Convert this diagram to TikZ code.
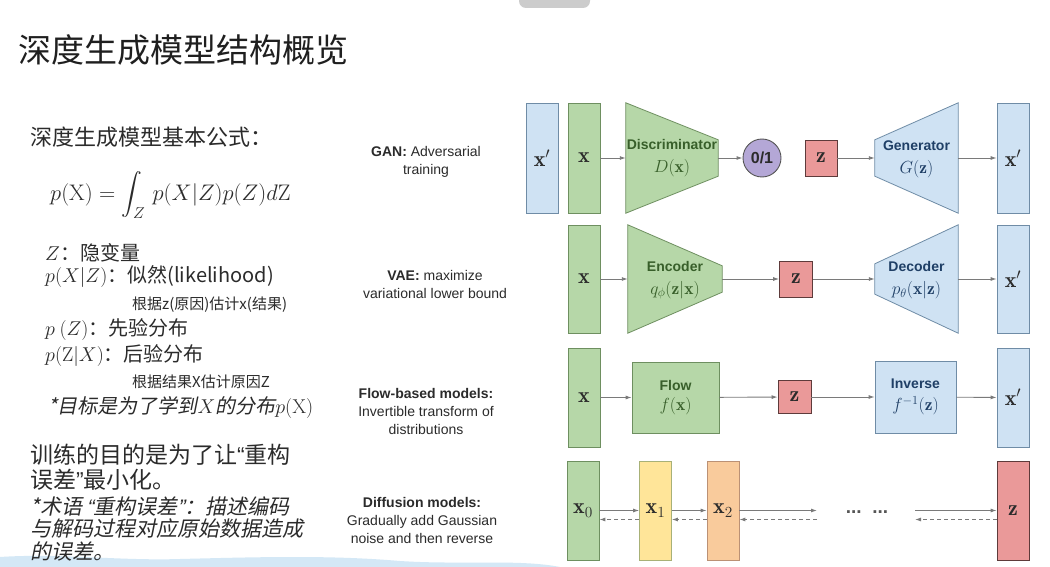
\RequirePackage{fix-cm}
\documentclass[tikz,border=0pt]{standalone}
\usepackage{fontspec}
\usepackage{amsmath}
\usetikzlibrary{arrows.meta}
\newfontfamily\cjk{Noto Sans CJK SC}
\newfontfamily\cjkit{Noto Sans CJK SC}[FakeSlant=0.2]
\newfontfamily\arial{Liberation Sans}
\newfontfamily\arialit{Liberation Sans}[FakeSlant=0.2]
\newcommand{\fsz}[2]{\fontsize{#1}{#2}\selectfont}
\newcommand{\mlab}[1]{{\fsz{17.5}{23}$#1$}}
\newcommand{\openq}{{\arial “}}
\newcommand{\closeq}{{\arial ”}}
\newcommand{\openqi}{{\arialit “}}
\newcommand{\closeqi}{{\arialit ”}}
\definecolor{boxgreen}{HTML}{B6D7A8}
\definecolor{boxblue}{HTML}{CFE2F3}
\definecolor{boxred}{HTML}{EA9999}
\definecolor{boxyellow}{HTML}{FFE599}
\definecolor{boxorange}{HTML}{F9CB9C}
\definecolor{boxpurple}{HTML}{B4A7D6}
\definecolor{greenline}{HTML}{6E8F60}
\definecolor{blueline}{HTML}{6F8CA6}
\definecolor{redline}{HTML}{5E3B3B}
\definecolor{greentext}{HTML}{385F2A}
\definecolor{bluetext}{HTML}{1F3F66}
\definecolor{inktext}{HTML}{2B2B2B}
\definecolor{arrowgrey}{HTML}{7A7A7A}
\definecolor{pillgrey}{HTML}{CCCCCC}
\definecolor{wavecol}{HTML}{D4E8F6}

\begin{document}
\begin{tikzpicture}[x=1pt,y=-1pt,
  frame/.style={inner sep=0pt, minimum width=#1},
  block/.style={inner sep=0pt, line width=0.8pt, minimum width=32pt, text=inktext, font=\fsz{22}{26}},
  greenbox/.style={block, fill=boxgreen, draw=greenline},
  bluebox/.style={block, fill=boxblue, draw=blueline},
  redbox/.style={block, fill=boxred, draw=redline},
  yellowbox/.style={block, fill=boxyellow, draw=greenline!60!boxyellow},
  orangebox/.style={block, fill=boxorange, draw=redline!40!boxorange},
  netlabel/.style={align=center, inner sep=0pt, font=\arial\bfseries\fsz{14}{23}},
  rowlabel/.style={align=center, inner sep=0pt, text=inktext, font=\arial\fsz{14}{18}},
  cjktext/.style={anchor=west, inner sep=0pt, text=inktext},
  arr/.style={draw=arrowgrey, line width=0.9pt, -{Latex[length=6pt,width=4pt]}},
  backarr/.style={arr, dash pattern=on 4pt off 3pt}]
\useasboundingbox (0,0) rectangle (1050,567);
\fill[white] (0,0) rectangle (1050,567);

% screen decorations
\fill[pillgrey, rounded corners=7pt] (519,-14) rectangle (590,8);
\fill[wavecol] (0,567) -- (0,557) .. controls (60,553) and (120,561) .. (180,559)
  .. controls (260,557) and (330,555) .. (400,561) .. controls (460,565) and (520,559) .. (560,567) -- cycle;

% left column text
\node[cjktext, text=black!88] (title) at (18,50) {\cjk\fsz{33}{36}深度生成模型结构概览};
\node[cjktext] (subtitle) at (30,137) {\cjk\fsz{22}{26}深度生成模型基本公式：};
\node[cjktext] (formula) at (50,195) {\fsz{22.5}{26}$\displaystyle p(\mathrm{X}) = \int_Z\, p(X|Z)p(Z)d\mathrm{Z}$};
\node[cjktext] (latent) at (45,253) {\cjk\fsz{20}{24}$Z$：隐变量};
\node[cjktext] (likeli) at (45,277) {\cjk\fsz{20}{24}$p(X|Z)$：似然(likelihood)};
\node[cjktext] (likelinote) at (132,305) {\cjk\fsz{15}{18}根据z(原因)估计x(结果)};
\node[cjktext] (prior) at (45,330) {\cjk\fsz{20}{24}$p\ (Z)$：先验分布};
\node[cjktext] (post) at (45,356) {\cjk\fsz{20}{24}$p(\mathrm{Z}|X)$：后验分布};
\node[cjktext] (postnote) at (132,382) {\cjk\fsz{15}{18}根据结果X估计原因Z};
\node[cjktext] (goal) at (48,407) {\cjkit\fsz{20}{24}*目标是为了学到$X$的分布$p(\mathrm{X})$};
\node[cjktext] (train1) at (30,455) {\cjk\fsz{23}{26}训练的目的是为了让\openq 重构};
\node[cjktext] (train2) at (30,480) {\cjk\fsz{23}{26}误差\closeq 最小化。};
\node[cjktext] (term1) at (30,506) {\cjkit\fsz{21}{24}*术语 \openqi 重构误差\closeqi ：描述编码};
\node[cjktext] (term2) at (30,529) {\cjkit\fsz{21}{24}与解码过程对应原始数据造成};
\node[cjktext] (term3) at (30,552) {\cjkit\fsz{21}{24}的误差。};

% row labels
\node[rowlabel] (ganlab) at (426,162) {\textbf{GAN:} Adversarial\\training};
\node[rowlabel] (vaelab) at (435,284) {\textbf{VAE:} maximize\\variational lower bound};
\node[rowlabel] (flowlab) at (426,411) {\textbf{Flow-based models:}\\Invertible transform of\\distributions};
\node[rowlabel] (difflab) at (422,520) {\textbf{Diffusion models:}\\Gradually add Gaussian\\noise and then reverse};

% GAN
\node[bluebox, minimum height=110pt] (ganxp) at (542,158) {$\mathbf{x}'$};
\node[greenbox, minimum height=110pt] (ganx) at (584,158) {$\mathbf{x}$};
\node[frame=92pt, minimum height=110pt] (disc) at (672,158) {};
\draw[greenbox] (disc.north west) -- ([yshift=-37pt]disc.north east) -- ([yshift=37pt]disc.south east) -- (disc.south west) -- cycle;
\node[netlabel, text=greentext] (disctxt) at (672,158) {Discriminator\\\mlab{D(\mathbf{x})}};
\node[circle, draw=inktext!80, line width=0.9pt, fill=boxpurple, minimum size=38pt, inner sep=0pt, text=inktext, font=\arial\bfseries\fsz{16}{18}] (bin) at (762,158) {0/1};
\node[redbox, minimum height=36pt] (ganz) at (821,158) {$\mathbf{z}$};
\node[frame=83pt, minimum height=110pt] (gen) at (916.5,158) {};
\draw[bluebox] ([yshift=-37pt]gen.north west) -- (gen.north east) -- (gen.south east) -- ([yshift=37pt]gen.south west) -- cycle;
\node[netlabel, text=bluetext] (gentxt) at (916.5,159) {Generator\\\mlab{G(\mathbf{z})}};
\node[bluebox, minimum height=110pt] (ganxq) at (1013,158) {$\mathbf{x}'$};
\draw[arr] (ganx) -- (disc);
\draw[arr] (disc) -- (bin);
\draw[arr] (ganz) -- (gen);
\draw[arr] (gen) -- (ganxq);

% VAE
\node[greenbox, minimum height=108pt] (vaex) at (584,279) {$\mathbf{x}$};
\node[frame=94pt, minimum height=108pt] (enc) at (675,279) {};
\draw[greenbox] (enc.north west) -- ([yshift=-41pt]enc.north east) -- ([yshift=41pt]enc.south east) -- (enc.south west) -- cycle;
\node[netlabel, text=greentext] (enctxt) at (675,280) {Encoder\\\mlab{q_\phi(\mathbf{z}|\mathbf{x})}};
\node[redbox, minimum height=36pt, minimum width=33pt] (vaez) at (796,279) {$\mathbf{z}$};
\node[frame=83pt, minimum height=108pt] (dec) at (916.5,279) {};
\draw[bluebox] ([yshift=-39pt]dec.north west) -- (dec.north east) -- (dec.south east) -- ([yshift=39pt]dec.south west) -- cycle;
\node[netlabel, text=bluetext] (dectxt) at (916.5,280) {Decoder\\\mlab{p_\theta(\mathbf{x}|\mathbf{z})}};
\node[bluebox, minimum height=108pt] (vaexp) at (1013,279) {$\mathbf{x}'$};
\draw[arr] (vaex) -- (enc);
\draw[arr] (enc) -- (vaez);
\draw[arr] (vaez) -- (dec);
\draw[arr] (dec) -- (vaexp);

% Flow
\node[greenbox, minimum height=99pt] (flowx) at (584,397.5) {$\mathbf{x}$};
\node[greenbox, minimum width=87pt, minimum height=71pt, align=center, font=\arial\bfseries\fsz{14}{20}, text=greentext] (flow) at (675.5,397.5) {Flow\\\mlab{f(\mathbf{x})}};
\node[redbox, minimum height=33pt, minimum width=33pt] (flowz) at (794.5,397) {$\mathbf{z}$};
\node[bluebox, minimum width=81pt, minimum height=72pt, align=center, font=\arial\bfseries\fsz{14}{22}, text=bluetext] (inv) at (915.5,397) {Inverse\\\mlab{f^{-1}(\mathbf{z})}};
\node[bluebox, minimum height=99pt] (flowxp) at (1013,397.5) {$\mathbf{x}'$};
\draw[arr] (flowx) -- (flow);
\draw[arr] (flow) -- (flowz);
\draw[arr] (flowz) -- (inv);
\draw[arr] (inv) -- (flowxp);

% Diffusion
\node[greenbox, minimum height=99pt] (dx0) at (583,510.5) {$\mathbf{x}_0$};
\node[yellowbox, minimum height=99pt] (dx1) at (655.5,510.5) {$\mathbf{x}_1$};
\node[orangebox, minimum height=99pt] (dx2) at (723,510.5) {$\mathbf{x}_2$};
\node[redbox, minimum height=99pt] (dz) at (1013,510.5) {$\mathbf{z}$};
\coordinate (dotl) at (817,510.5);
\coordinate (dotr) at (915,510.5);
\node[inner sep=0pt, text=inktext!80, font=\arial\bfseries\fsz{19}{20}] (dots) at (867,512) {...\ \ ...};
\draw[arr] (dx0) -- (dx1);
\draw[backarr] ([yshift=-9pt]dx1.west) -- ([yshift=-9pt]dx0.east);
\draw[arr] (dx1) -- (dx2);
\draw[backarr] ([yshift=-9pt]dx2.west) -- ([yshift=-9pt]dx1.east);
\draw[arr] (dx2) -- (dotl);
\draw[backarr] ([yshift=-9pt]dotl) -- ([yshift=-9pt]dx2.east);
\draw[arr] (dotr) -- (dz);
\draw[backarr] ([yshift=-9pt]dz.west) -- ([yshift=-9pt]dotr);
\end{tikzpicture}
\end{document}
